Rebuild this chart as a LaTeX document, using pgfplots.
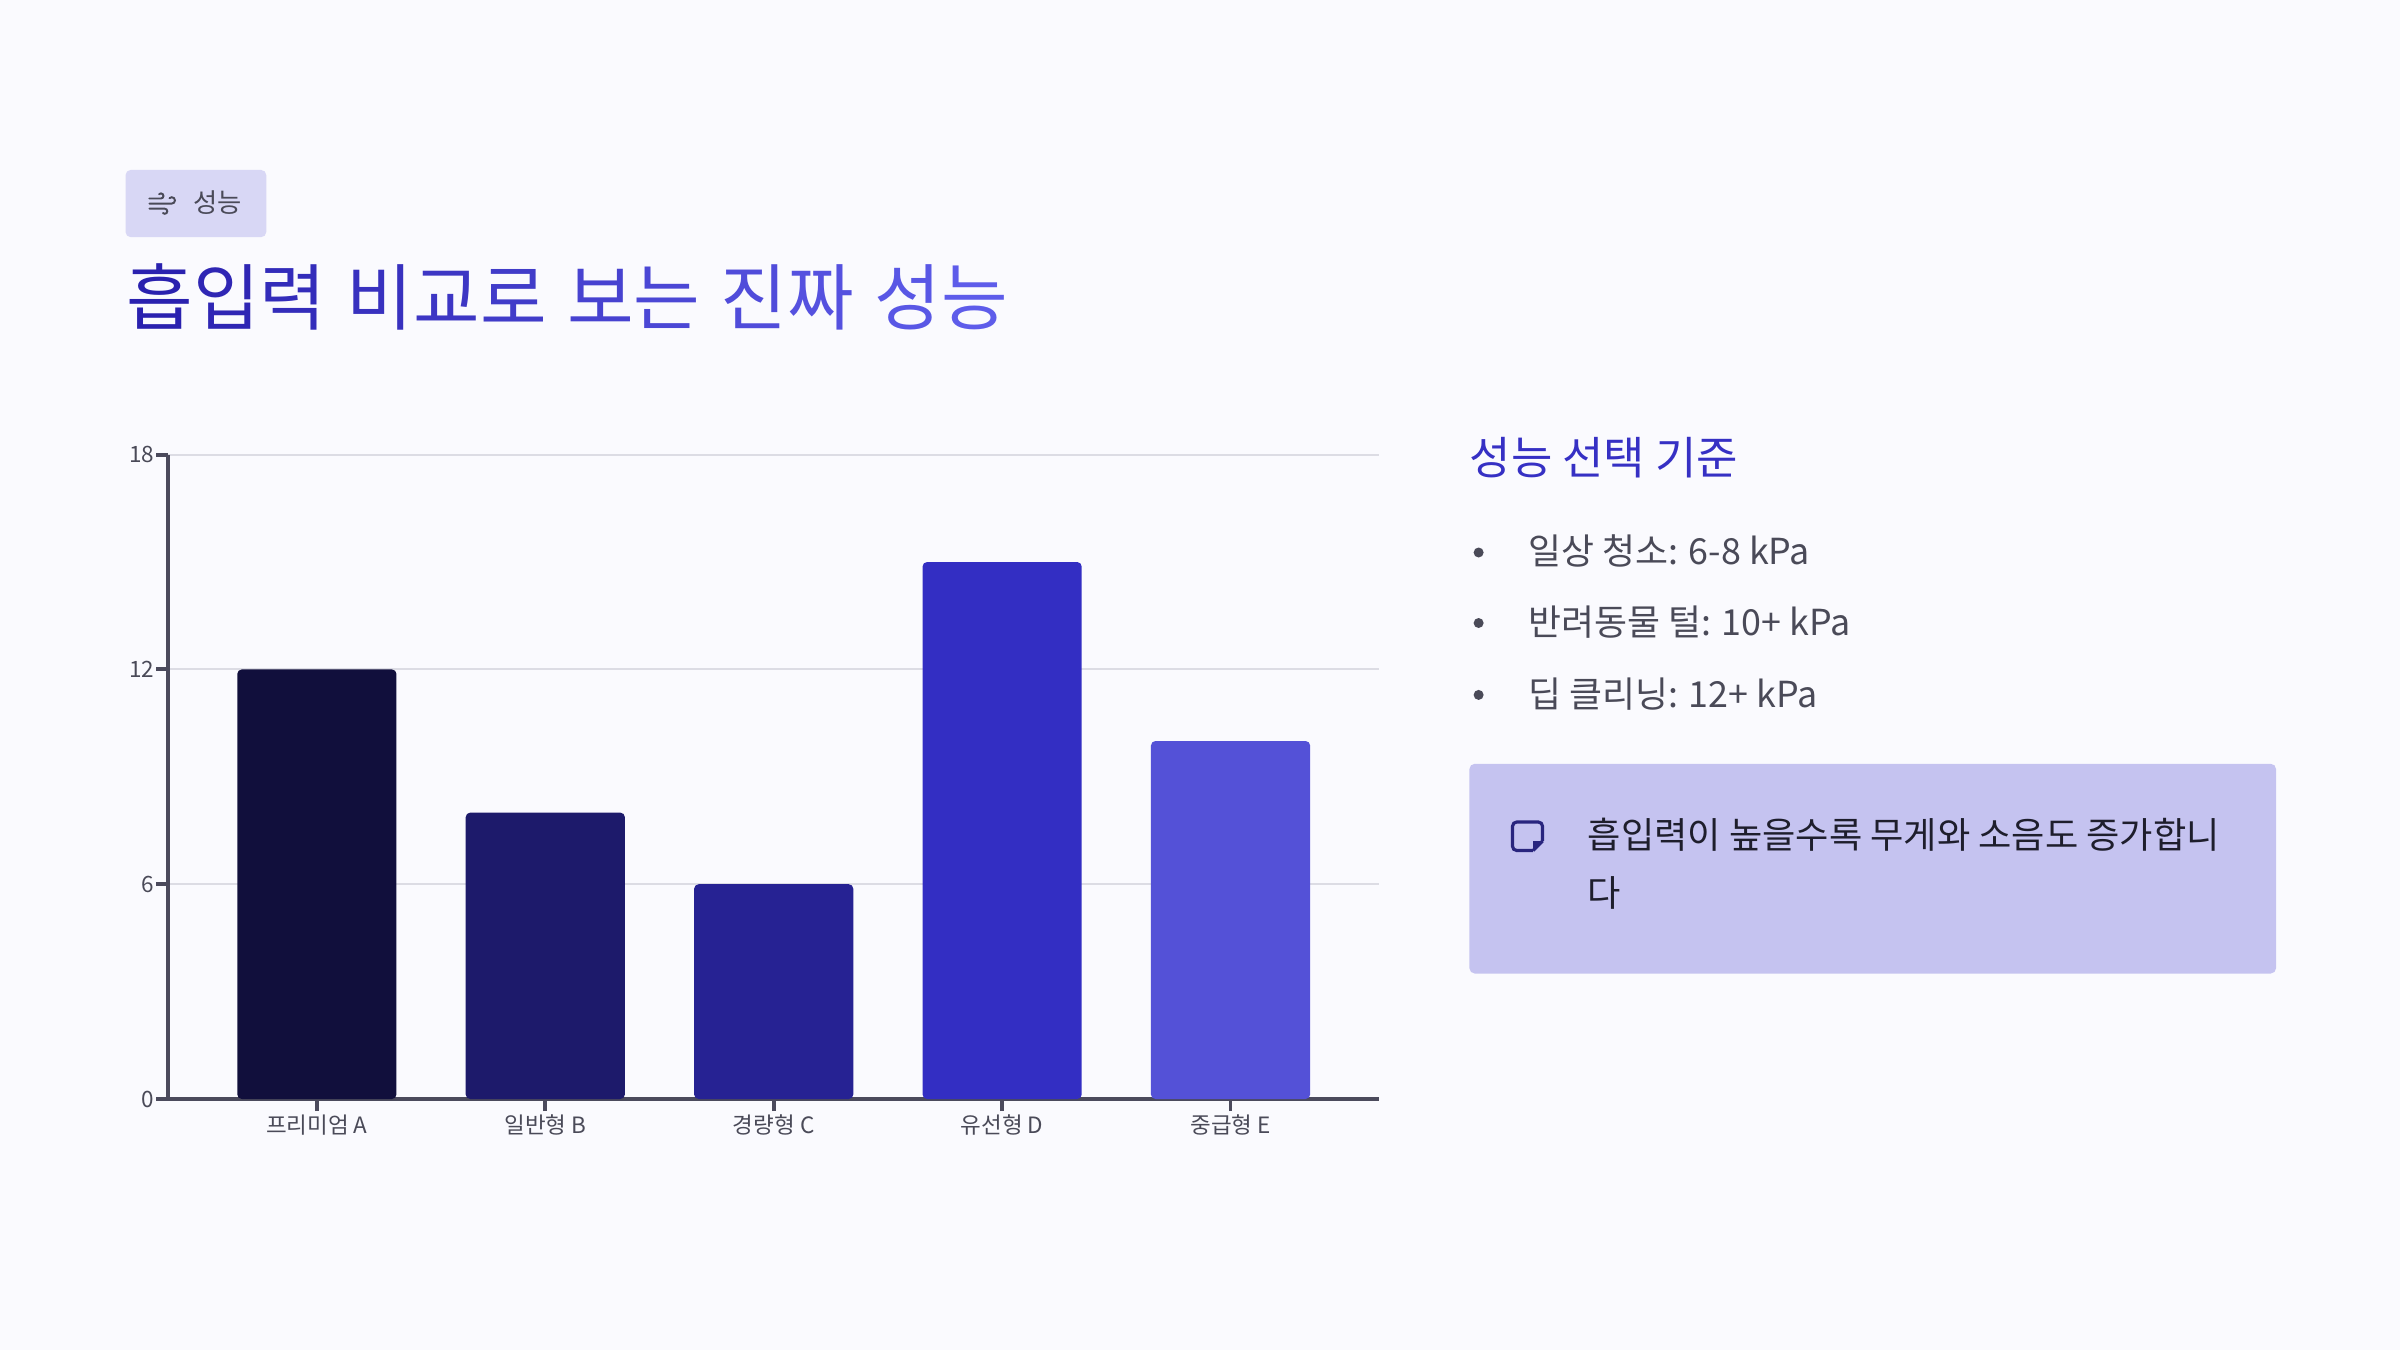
\documentclass[border=0pt]{standalone}
\usepackage{fontspec}
\setmainfont{Noto Sans CJK KR}
\usepackage{pgfplots}
\pgfplotsset{compat=1.18}
\definecolor{bg}{HTML}{FAFAFE}
\definecolor{badge}{HTML}{D8D7F5}
\definecolor{boxc}{HTML}{C5C3F0}
\definecolor{T1}{HTML}{2A21AF}
\definecolor{T2}{HTML}{5E5CEA}
\definecolor{headc}{HTML}{3630C4}
\definecolor{textc}{HTML}{4A4A58}
\definecolor{notec}{HTML}{1E1E2C}
\definecolor{iconc}{HTML}{29257E}
\definecolor{axisc}{HTML}{4B4A5C}
\definecolor{gridc}{HTML}{DCDCE4}
\definecolor{barA}{HTML}{110F3C}
\definecolor{barB}{HTML}{1D1A6B}
\definecolor{barC}{HTML}{262293}
\definecolor{barD}{HTML}{332EC3}
\definecolor{barE}{HTML}{5451D7}
\newcommand{\tc}[2]{\textcolor{T2!#1!T1}{#2}}
\newcommand{\wsp}{\ \hspace{1.2pt}}
\begin{document}
\begin{tikzpicture}
\fill[bg] (0,0) rectangle (24,13.5);
% badge
\fill[badge, rounded corners=1.5pt] (1.255,11.128) rectangle (2.663,11.801);
\begin{scope}[shift={(1.622cm-12*0.01275cm,11.464cm+12*0.01275cm)}, xscale=0.01275, yscale=-0.01275, draw=textc, line width=0.55pt, line cap=round]
\draw (2,8) -- (11,8) arc[start angle=90, end angle=-135, radius=2];
\draw (2,16) -- (14,16) arc[start angle=-90, end angle=135, radius=2];
\draw (2,12) -- (19.5,12) arc[start angle=90, end angle=-135, radius=2.5];
\end{scope}
\node[anchor=west, inner sep=0pt, text=textc, font=\fontsize{7.5}{8}\selectfont] at (1.925,11.47) {성능};
% title
\node[anchor=base west, inner sep=0pt, font=\fontsize{20.6}{22}\selectfont] at (1.26,10.255)
{\tc{0}{흡}\tc{9}{입}\tc{18}{력}\wsp\tc{27}{비}\tc{36}{교}\tc{45}{로}\wsp\tc{55}{보}\tc{64}{는}\wsp\tc{73}{진}\tc{82}{짜}\wsp\tc{91}{성}\tc{100}{능}};
% right panel
\node[anchor=base west, inner sep=0pt, text=headc, font=\fontsize{12.8}{14}\selectfont] at (14.69,8.76) {성능 선택 기준};
\fill[textc] (14.786,7.975) circle (0.05);
\fill[textc] (14.786,7.270) circle (0.05);
\fill[textc] (14.786,6.551) circle (0.05);
\node[anchor=base west, inner sep=0pt, text=textc, font=\fontsize{10.2}{12}\selectfont] at (15.275,7.852) {일상 청소: 6-8 kPa};
\node[anchor=base west, inner sep=0pt, text=textc, font=\fontsize{10.2}{12}\selectfont] at (15.275,7.147) {반려동물 털: 10+ kPa};
\node[anchor=base west, inner sep=0pt, text=textc, font=\fontsize{10.2}{12}\selectfont] at (15.275,6.428) {딥 클리닝: 12+ kPa};
\fill[boxc, rounded corners=1.5pt] (14.694,3.765) rectangle (22.760,5.862);
\draw[iconc, line width=0.9pt, rounded corners=1.2pt] (15.33,4.995) -- (15.125,4.995) -- (15.125,5.28) -- (15.425,5.28) -- (15.425,5.09);
\draw[iconc, line width=0.9pt] (15.425,5.09) -- (15.33,4.995);
\fill[iconc] (15.425,5.09) -- (15.33,4.995) -- (15.33,5.09) -- cycle;
\node[anchor=base west, inner sep=0pt, text=notec, font=\fontsize{10.3}{12}\selectfont] at (15.872,5.02) {흡입력이 높을수록 무게와 소음도 증가합니};
\node[anchor=base west, inner sep=0pt, text=notec, font=\fontsize{10.3}{12}\selectfont] at (15.872,4.439) {다};
% chart
\begin{axis}[at={(1.684cm,2.510cm)}, anchor=south west,
  width=12.106cm, height=6.444cm, scale only axis,
  xmin=-0.65, xmax=4.65, ymin=0, ymax=18,
  ytick={0,6,12,18}, xtick={0,1,2,3,4},
  xticklabels={프리미엄 A, 일반형 B, 경량형 C, 유선형 D, 중급형 E},
  axis x line=bottom, axis y line=left,
  axis line style={-, draw=axisc, line width=1.15pt},
  ymajorgrids, grid style={gridc, line width=0.55pt},
  tick align=outside, major tick length=0.12cm,
  tick style={axisc, line width=1.1pt},
  ticklabel style={font=\fontsize{6.4}{7}\selectfont, text=textc},
  xticklabel style={yshift=0.09cm},
  yticklabel style={xshift=0.1cm},
  /pgf/number format/assume math mode=true,
  bar width=1.592cm, bar shift=0pt,
  ]
\addplot[ybar, fill=barA, draw=none, rounded corners=1.3pt] coordinates {(0,12)};
\addplot[ybar, fill=barB, draw=none, rounded corners=1.3pt] coordinates {(1,8)};
\addplot[ybar, fill=barC, draw=none, rounded corners=1.3pt] coordinates {(2,6)};
\addplot[ybar, fill=barD, draw=none, rounded corners=1.3pt] coordinates {(3,15)};
\addplot[ybar, fill=barE, draw=none, rounded corners=1.3pt] coordinates {(4,10)};
\end{axis}
\end{tikzpicture}
\end{document}
